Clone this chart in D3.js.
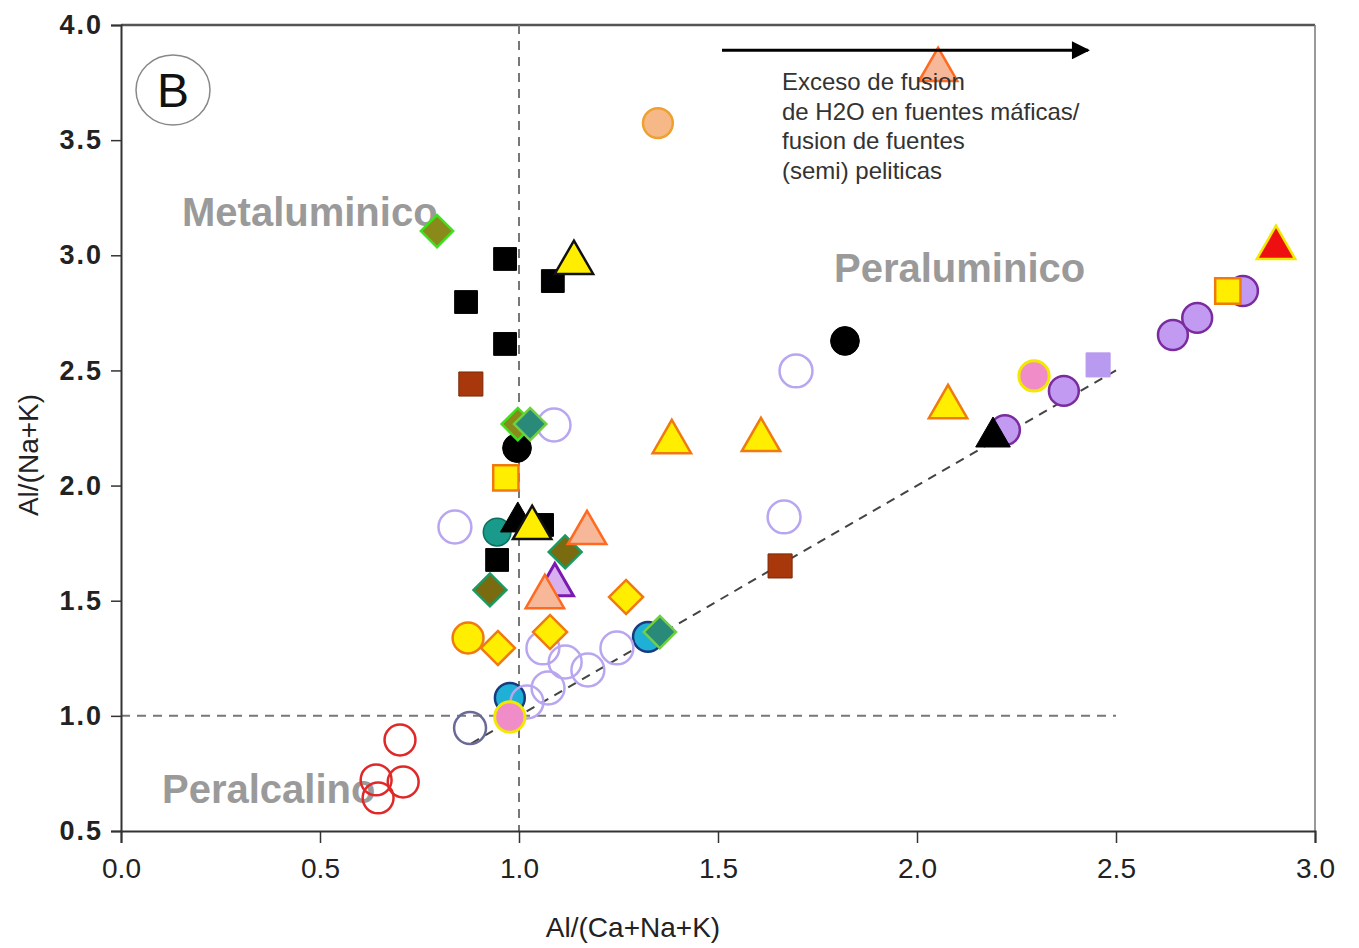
<!DOCTYPE html>
<html><head><meta charset="utf-8">
<script src="https://cdn.jsdelivr.net/npm/d3@7"></script>
<style>body{margin:0;background:#fff}svg{display:block}</style>
</head><body><svg id="c" width="1359" height="948"></svg>
<script>
// ---- data ----
const xTicks = [0.0, 0.5, 1.0, 1.5, 2.0, 2.5, 3.0];
const yTicks = [0.5, 1.0, 1.5, 2.0, 2.5, 3.0, 3.5, 4.0];
const xLabel = "Al/(Ca+Na+K)";
const yLabel = "Al/(Na+K)";

const purpleCircX = [2.221, 2.369, 2.643, 2.704, 2.819];
const purpleCircY = [2.241, 2.411, 2.654, 2.728, 2.845];
const blueCircX = [0.977, 1.324];
const blueCircY = [1.078, 1.343];
const tealCircX = [0.945];
const tealCircY = [1.798];
const openCircX = [1.088, 0.839, 1.060, 1.116, 1.173, 1.246, 1.073, 1.020, 1.696, 1.666];
const openCircY = [2.263, 1.820, 1.295, 1.234, 1.199, 1.295, 1.121, 1.060, 2.498, 1.864];
const darkOpenCircX = [0.877];
const darkOpenCircY = [0.947];
const redOpenCircX = [0.701, 0.709, 0.641, 0.646];
const redOpenCircY = [0.895, 0.713, 0.722, 0.644];
const blackCircX = [0.995, 1.819];
const blackCircY = [2.163, 2.628];
const yellowCircX = [0.872];
const yellowCircY = [1.338];
const pinkCircX = [0.977, 2.294];
const pinkCircY = [0.995, 2.476];
const salmonCircX = [1.349];
const salmonCircY = [3.574];
const blackSqX = [0.965, 0.867, 0.965, 1.085, 1.058, 0.945];
const blackSqY = [2.984, 2.797, 2.615, 2.888, 1.829, 1.677];
const brownSqX = [0.879, 1.656];
const brownSqY = [2.441, 1.651];
const yellowSqX = [0.967, 2.781];
const yellowSqY = [2.033, 2.845];
const lavSqX = [2.455];
const lavSqY = [2.524];
const blackTriX = [0.997, 2.191];
const blackTriY = [1.842, 2.211];
const yellowTriBkX = [1.138, 1.033];
const yellowTriBkY = [2.967, 1.816];
const yellowTriOrX = [1.384, 1.608, 2.078];
const yellowTriOrY = [2.189, 2.198, 2.341];
const purpleTriX = [1.090];
const purpleTriY = [1.568];
const salmonTriX = [1.171, 1.065, 2.053];
const salmonTriY = [1.794, 1.516, 3.805];
const redTriX = [2.902];
const redTriY = [3.032];
const limeDiaX = [0.794, 0.997];
const limeDiaY = [3.105, 2.267];
const tealDiaX = [1.028, 1.354];
const tealDiaY = [2.267, 1.364];
const oliveDiaX = [1.116, 0.927];
const oliveDiaY = [1.712, 1.547];
const yellowDiaX = [1.269, 0.947, 1.078];
const yellowDiaY = [1.516, 1.295, 1.364];

const refLineX = [0.88, 2.5];
const refLineY = [0.88, 2.5];
const noteLines = ["Exceso de fusion", "de H2O en fuentes máficas/", "fusion de fuentes", "(semi) peliticas"];

// ---- layout ----
const svg = d3.select("#c");
const L = 121, R = 1315, T = 25, B = 831;
const x = d3.scaleLinear().domain([0, 3]).range([L, R]);
const y = d3.scaleLinear().domain([0.5, 4]).range([B, T]);

// frame
svg.append("line").attr("x1", L).attr("x2", R).attr("y1", T).attr("y2", T).attr("stroke", "#555").attr("stroke-width", 2.5);
svg.append("line").attr("x1", R).attr("x2", R).attr("y1", T).attr("y2", B).attr("stroke", "#777").attr("stroke-width", 1.5);

// reference dashed lines
const dash = "9,7";
svg.append("line").attr("x1", x(1)).attr("x2", x(1)).attr("y1", T).attr("y2", B)
  .attr("stroke", "#777").attr("stroke-width", 2).attr("stroke-dasharray", dash);
svg.append("line").attr("x1", x(0)).attr("x2", x(2.5)).attr("y1", y(1)).attr("y2", y(1))
  .attr("stroke", "#777").attr("stroke-width", 2).attr("stroke-dasharray", dash);
svg.append("line").attr("x1", x(refLineX[0])).attr("x2", x(refLineX[1])).attr("y1", y(refLineY[0])).attr("y2", y(refLineY[1]))
  .attr("stroke", "#444").attr("stroke-width", 2).attr("stroke-dasharray", dash);

// axes
const font = "'Liberation Sans', Arial, sans-serif";
const gx = svg.append("g").attr("transform", `translate(0,${B})`)
  .call(d3.axisBottom(x).tickValues(xTicks).tickFormat(d3.format(".1f")).tickSizeOuter(0).tickSize(12));
gx.select(".domain").attr("stroke", "#333").attr("stroke-width", 2);
gx.selectAll(".tick line").attr("stroke", "#333").attr("stroke-width", 1.5);
gx.selectAll("text").attr("font-family", font).attr("font-size", 28).attr("fill", "#222").attr("dy", "1.15em");

const gy = svg.append("g").attr("transform", `translate(${L},0)`)
  .call(d3.axisLeft(y).tickValues(yTicks).tickFormat(d3.format(".1f")).tickSizeOuter(0).tickSize(10));
gy.select(".domain").attr("stroke", "#333").attr("stroke-width", 2);
gy.selectAll(".tick line").attr("stroke", "#333").attr("stroke-width", 1.5);
gy.selectAll("text").attr("font-family", font).attr("font-size", 27).attr("font-weight", "bold")
  .attr("letter-spacing", 2).attr("fill", "#222").attr("x", -18);

svg.append("text").attr("x", 633).attr("y", 937).attr("text-anchor", "middle")
  .attr("font-family", font).attr("font-size", 28).attr("fill", "#222").text(xLabel);
svg.append("text").attr("transform", `translate(38,455) rotate(-90)`).attr("text-anchor", "middle")
  .attr("font-family", font).attr("font-size", 28).attr("fill", "#222").text(yLabel);

// region labels
function grey(t, px, py, fs) {
  svg.append("text").attr("x", px).attr("y", py).attr("font-family", font).attr("font-size", fs)
    .attr("font-weight", "bold").attr("fill", "#9a9a9a").text(t);
}
grey("Metaluminico", 182, 226, 40);
grey("Peraluminico", 834, 282, 40);
grey("Peralcalino", 162, 803, 40);

// B label
svg.append("ellipse").attr("cx", 173).attr("cy", 90).attr("rx", 37).attr("ry", 35)
  .attr("fill", "none").attr("stroke", "#888").attr("stroke-width", 1.5);
svg.append("text").attr("x", 173).attr("y", 107).attr("text-anchor", "middle").attr("font-family", font)
  .attr("font-size", 48).attr("fill", "#111").text("B");

// markers
function sym(type, size) { return d3.symbol().type(type).size(size)(); }
const series = [
  {xs: purpleCircX, ys: purpleCircY, t: d3.symbolCircle, s: 700, fill: "#c39af2", stroke: "#7a2c9e", sw: 2.5},
  {xs: blueCircX, ys: blueCircY, t: d3.symbolCircle, s: 700, fill: "#1fb0d8", stroke: "#1a3a80", sw: 2.5},
  {xs: tealCircX, ys: tealCircY, t: d3.symbolCircle, s: 600, fill: "#1a9a8a", stroke: "#0c7060", sw: 1.5},
  {xs: openCircX, ys: openCircY, t: d3.symbolCircle, s: 850, fill: "none", stroke: "#b9a6f0", sw: 2.5},
  {xs: darkOpenCircX, ys: darkOpenCircY, t: d3.symbolCircle, s: 800, fill: "none", stroke: "#6a6a98", sw: 2.5},
  {xs: redOpenCircX, ys: redOpenCircY, t: d3.symbolCircle, s: 750, fill: "none", stroke: "#e02828", sw: 2.5},
  {xs: blackCircX, ys: blackCircY, t: d3.symbolCircle, s: 650, fill: "#000", stroke: "#000", sw: 1},
  {xs: yellowCircX, ys: yellowCircY, t: d3.symbolCircle, s: 750, fill: "#ffee00", stroke: "#f07a10", sw: 2.5},
  {xs: pinkCircX, ys: pinkCircY, t: d3.symbolCircle, s: 720, fill: "#f08cc8", stroke: "#f2e800", sw: 3},
  {xs: salmonCircX, ys: salmonCircY, t: d3.symbolCircle, s: 700, fill: "#f6b886", stroke: "#eea030", sw: 2.5},
  {xs: brownSqX, ys: brownSqY, t: d3.symbolSquare, s: 580, fill: "#a8380c", stroke: "#7a2a08", sw: 1},
  {xs: blackSqX, ys: blackSqY, t: d3.symbolSquare, s: 520, fill: "#000", stroke: "#000", sw: 1},
  {xs: lavSqX, ys: lavSqY, t: d3.symbolSquare, s: 580, fill: "#b89af0", stroke: "#b89af0", sw: 1},
  {xs: oliveDiaX, ys: oliveDiaY, t: d3.symbolSquare, s: 540, fill: "#7a6a10", stroke: "#1a9a60", sw: 2.5, rot: 45},
  {xs: limeDiaX, ys: limeDiaY, t: d3.symbolSquare, s: 520, fill: "#8a8a1a", stroke: "#40e020", sw: 2.5, rot: 45},
  {xs: tealDiaX, ys: tealDiaY, t: d3.symbolSquare, s: 520, fill: "#2a8a7a", stroke: "#70d040", sw: 2.5, rot: 45},
  {xs: blackTriX, ys: blackTriY, t: d3.symbolTriangle, s: 520, fill: "#000", stroke: "#000", sw: 1},
  {xs: yellowSqX, ys: yellowSqY, t: d3.symbolSquare, s: 640, fill: "#ffee00", stroke: "#f07a10", sw: 2.5},
  {xs: yellowTriBkX, ys: yellowTriBkY, t: d3.symbolTriangle, s: 640, fill: "#ffee00", stroke: "#111", sw: 2.5},
  {xs: yellowTriOrX, ys: yellowTriOrY, t: d3.symbolTriangle, s: 640, fill: "#ffee00", stroke: "#f07a10", sw: 2.5},
  {xs: purpleTriX, ys: purpleTriY, t: d3.symbolTriangle, s: 600, fill: "#d8b0f0", stroke: "#7a1ab0", sw: 3},
  {xs: salmonTriX, ys: salmonTriY, t: d3.symbolTriangle, s: 640, fill: "#f6b898", stroke: "#ff6a20", sw: 2.5},
  {xs: yellowDiaX, ys: yellowDiaY, t: d3.symbolSquare, s: 580, fill: "#ffee00", stroke: "#f07a10", sw: 2.5, rot: 45},
  {xs: redTriX, ys: redTriY, t: d3.symbolTriangle, s: 640, fill: "#ee1010", stroke: "#f2e800", sw: 2.5}
];
const gm = svg.append("g");
series.forEach(sr => {
  const pts = sr.xs.map((v, i) => ({x: v, y: sr.ys[i]}));
  gm.selectAll(null).data(pts).enter().append("path")
    .attr("d", sym(sr.t, sr.s))
    .attr("transform", d => `translate(${x(d.x)},${y(d.y)})` + (sr.rot ? ` rotate(${sr.rot})` : ""))
    .attr("fill", sr.fill).attr("stroke", sr.stroke).attr("stroke-width", sr.sw);
});

// arrow + note
const ay = y(3.89);
svg.append("defs").append("marker").attr("id", "ah").attr("viewBox", "0 0 10 10").attr("refX", 9).attr("refY", 5)
  .attr("markerWidth", 8).attr("markerHeight", 6).attr("orient", "auto").attr("markerUnits", "strokeWidth")
  .append("path").attr("d", "M0,0 L10,5 L0,10 Z").attr("fill", "#000");
svg.append("line").attr("x1", x(1.51)).attr("x2", x(2.43)).attr("y1", ay).attr("y2", ay)
  .attr("stroke", "#000").attr("stroke-width", 3).attr("marker-end", "url(#ah)");
svg.append("g").selectAll("text").data(noteLines).enter().append("text")
  .attr("x", 782).attr("y", (d, i) => 90 + i * 29.5).attr("font-family", font).attr("font-size", 24)
  .attr("fill", "#333").text(d => d);
</script></body></html>
